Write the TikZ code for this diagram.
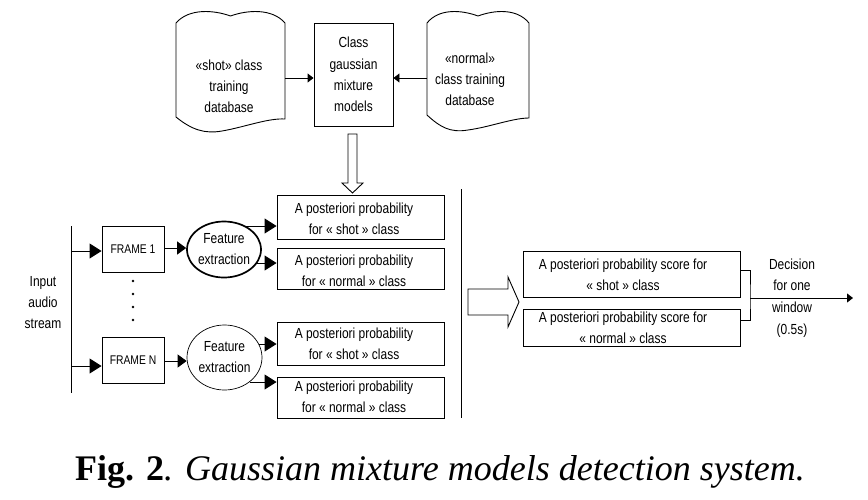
\documentclass[tikz,border=0pt]{standalone}
\usepackage{fontspec}
\setmainfont[FakeStretch=0.82]{Liberation Sans}
\newfontfamily\capfont{Liberation Serif}
\usetikzlibrary{arrows.meta,shapes.geometric,calc}
\begin{document}
\begin{tikzpicture}[x=1pt,y=-1pt,line width=0.9pt,
  box/.style={draw, rectangle, inner sep=0pt},
  lbl/.style={font=\fontsize{14.6}{21}\selectfont, align=center, inner sep=0pt},
  small/.style={font=\fontsize{12.6}{14}\selectfont, inner sep=0pt},
  bigarr/.style={-{Triangle[length=12pt,width=15pt]}},
  midarr/.style={-{Triangle[length=9pt,width=13pt]}},
  smallarr/.style={-{Triangle[length=6pt,width=9pt]}},
  hollow/.style={draw, fill=white, line width=0.9pt, line join=miter}
]
\useasboundingbox (0,0) rectangle (868,499);

% ---- top: databases and GMM box
\draw (176,117) -- (176,23)
  .. controls (189,8) and (214,10) .. (230.5,16)
  .. controls (247,10) and (272,8) .. (285,23) -- (285,119)
  .. controls (268,118) and (245,127) .. (222,131)
  .. controls (205,134) and (192,130) .. (176,117) -- cycle;
\node[lbl] (dbS) at (229,86.5) {«shot» class\\training\\database};

\draw (427,115) -- (427,23)
  .. controls (439,8) and (462,10) .. (478,16)
  .. controls (494,10) and (517,8) .. (529,23) -- (529,118)
  .. controls (513,118) and (490,127) .. (468,130)
  .. controls (450,133) and (440,127) .. (427,115) -- cycle;
\node[lbl] (dbN) at (470,79) {«normal»\\class training\\database};

\node[box, minimum width=79pt, minimum height=103pt, lbl,
      font=\fontsize{14.6}{21.3}\selectfont] (gmm) at (353.5,74.5)
      {Class\\gaussian\\mixture\\models};

\coordinate (dbSr) at (285,78);
\coordinate (dbNl) at (427,78);
\draw[smallarr] (dbSr) -- (gmm.west |- dbSr);
\draw[smallarr] (dbNl) -- (gmm.east |- dbNl);

% hollow down arrow
\draw[hollow] (348,134) -- (357,134) -- (357,183) -- (363,183) -- (352.5,193)
  -- (342,183) -- (348,183) -- cycle;

% ---- left: input and frames
\coordinate (inT) at (71,226);
\coordinate (inB) at (71,393);
\draw (inT) -- (inB);
\node[lbl] (inp) at (43,303) {Input\\audio\\stream};

\node[box, small, minimum width=62pt, minimum height=46pt] (f1) at (133,249) {FRAME 1};
\node[box, small, minimum width=62pt, minimum height=46pt] (fN) at (133,360) {FRAME N};

\coordinate (i1) at (71,251);
\coordinate (i2) at (71,366);
\draw[bigarr] (i1) -- (f1.west |- i1);
\draw[bigarr] (i2) -- (fN.west |- i2);

\foreach \yy in {281,294,307,320} \fill (133,\yy) circle (1.3pt);

\node[ellipse, draw, line width=1.7pt, minimum width=74pt, minimum height=56pt,
      inner sep=0pt, lbl] (e1) at (224,249.5) {Feature\\extraction};
\node[ellipse, draw, line width=0.7pt, minimum width=75pt, minimum height=65pt,
      inner sep=0pt, lbl] (e2) at (224.5,357.5) {Feature\\extraction};

\coordinate (o1) at (164,248);
\coordinate (o2) at (164,361);
\draw[midarr] (f1.east |- o1) -- (e1.west |- o1);
\draw[midarr] (fN.east |- o2) -- (e2.west |- o2);

% probability boxes
\node[box, minimum width=167pt, minimum height=44pt] (p1) at (360.5,217) {};
\node[box, minimum width=167pt, minimum height=41pt] (p2) at (360.5,268.5) {};
\node[box, minimum width=167pt, minimum height=43pt] (p3) at (360.5,343.5) {};
\node[box, minimum width=167pt, minimum height=41pt] (p4) at (360.5,397.5) {};
\node[lbl] (t1) at (354,218.5) {A posteriori probability\\for « shot » class};
\node[lbl] (t2) at (354,270.5) {A posteriori probability\\for « normal » class};
\node[lbl] (t3) at (354,344) {A posteriori probability\\for « shot » class};
\node[lbl] (t4) at (354,397) {A posteriori probability\\for « normal » class};

\coordinate (a1) at (246,226);
\coordinate (a2) at (255,263);
\coordinate (a3) at (259,344);
\coordinate (a4) at (250,382);
\draw[bigarr] (a1) -- (p1.west |- a1);
\draw[bigarr] (a2) -- (p2.west |- a2);
\draw[bigarr] (a3) -- (p3.west |- a3);
\draw[bigarr] (a4) -- (p4.west |- a4);

% separator
\coordinate (sepT) at (461,189);
\coordinate (sepB) at (461,418);
\draw (sepT) -- (sepB);

% ---- right: hollow arrow, scores, decision
\draw[hollow] (468,289) -- (508,289) -- (508,277) -- (519,302) -- (508,327)
  -- (508,315) -- (468,315) -- cycle;

\node[box, minimum width=217pt, minimum height=46pt] (sA) at (631.5,274) {};
\node[box, minimum width=217pt, minimum height=37pt] (sB) at (631.5,327.5) {};
\node[lbl] (tA) at (623,275) {A posteriori probability score for\\« shot » class};
\node[lbl] (tB) at (623,327.5) {A posteriori probability score for\\« normal » class};

\coordinate (j) at (750,298);
\coordinate (out) at (853,298);
\draw ([yshift=4pt]sA.east) -| (j) |- ([yshift=7.5pt]sB.east);
\draw[smallarr] (j) -- (out);
\node[lbl, font=\fontsize{14.6}{21.7}\selectfont] (dec) at (792,298)
  {Decision\\for one\\window\\(0.5s)};

% ---- caption
\node[anchor=base, inner sep=0pt, font=\capfont\fontsize{36}{40}\selectfont] (cap) at (440,480)
  {\textbf{Fig. 2}\textit{. Gaussian mixture models detection system.}};
\end{tikzpicture}
\end{document}
